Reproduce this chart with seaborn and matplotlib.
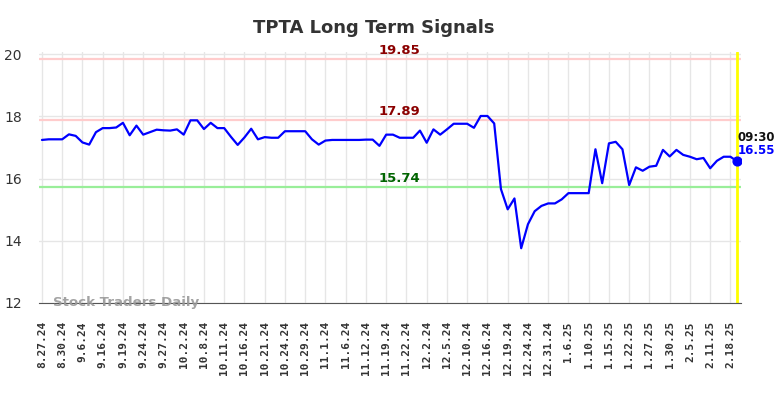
import matplotlib
matplotlib.use("Agg")
import matplotlib.pyplot as plt
import numpy as np
import pandas as pd
import seaborn as sns


# ─── Data ──────────────────────────────────────────────────────────────────

prices = [
    17.24, 17.26, 17.26, 17.26, 17.42, 17.37, 17.16, 17.09, 17.49, 17.62,
    17.62, 17.64, 17.79, 17.39, 17.70, 17.41, 17.49, 17.57, 17.55, 17.54,
    17.58, 17.41, 17.87, 17.87, 17.59, 17.79, 17.62, 17.62, 17.34, 17.08,
    17.32, 17.60, 17.26, 17.33, 17.31, 17.31, 17.52, 17.52, 17.52, 17.52,
    17.26, 17.09, 17.22, 17.24, 17.24, 17.24, 17.24, 17.24, 17.25, 17.25,
    17.05, 17.41, 17.41, 17.31, 17.31, 17.31, 17.54, 17.15, 17.58, 17.41,
    17.58, 17.76, 17.76, 17.76, 17.63, 18.01, 18.01, 17.77, 15.66, 15.01,
    15.36, 13.76, 14.53, 14.95, 15.12, 15.20, 15.20, 15.33, 15.53, 15.53,
    15.53, 15.53, 16.94, 15.85, 17.13, 17.18, 16.94, 15.79, 16.36, 16.25,
    16.38, 16.41, 16.92, 16.71, 16.92, 16.76, 16.70, 16.62, 16.66, 16.33,
    16.57, 16.70, 16.70, 16.55,
]

tick_labels = [
    "8.27.24", "8.30.24", "9.6.24", "9.16.24", "9.19.24", "9.24.24", "9.27.24",
    "10.2.24", "10.8.24", "10.11.24", "10.16.24", "10.21.24", "10.24.24",
    "10.29.24", "11.1.24", "11.6.24", "11.12.24", "11.19.24", "11.22.24",
    "12.2.24", "12.5.24", "12.10.24", "12.16.24", "12.19.24", "12.24.24",
    "12.31.24", "1.6.25", "1.10.25", "1.15.25", "1.22.25", "1.27.25",
    "1.30.25", "2.5.25", "2.11.25", "2.18.25",
]

resistance_levels = [19.85, 17.89]
support_levels = [15.74]
last_time = "09:30"


# ─── Plot ──────────────────────────────────────────────────────────────────

df = pd.DataFrame({"idx": np.arange(len(prices)), "price": prices})
tick_step = 3

sns.set_style("white")
fig = plt.figure(figsize=(7.84, 3.98), dpi=100)
ax = fig.add_axes([0.0492, 0.2387, 0.8954, 0.6294])

for lvl in resistance_levels:
    ax.axhline(lvl, color="#ffcccc", lw=1.6, zorder=1)
for lvl in support_levels:
    ax.axhline(lvl, color="#99ee99", lw=1.6, zorder=1)

sns.lineplot(data=df, x="idx", y="price", ax=ax, color="#0000ff", lw=1.6, zorder=3)

last_i = len(prices) - 1
ax.axvline(last_i, color="#ffff00", lw=2, zorder=2)
ax.scatter([last_i], [prices[-1]], s=40, color="#0000ff", zorder=4)

ax.set_xlim(-0.5, last_i + 0.5)
ax.set_ylim(12, 20.05)
ax.set_yticks([12, 14, 16, 18, 20])
ax.set_xticks(np.arange(0, len(tick_labels) * tick_step, tick_step))
ax.set_xticklabels(tick_labels, rotation=90, fontsize=8, fontweight="bold",
                   family="DejaVu Sans Mono", color="#333333")
ax.tick_params(axis="y", labelsize=10, colors="#333333", length=0, pad=12)
ax.tick_params(axis="x", length=0, pad=13)
ax.grid(True, color="#e6e6e6", lw=1)
ax.set_xlabel("")
ax.set_ylabel("")
for side in ["top", "right", "left"]:
    ax.spines[side].set_visible(False)
ax.spines["bottom"].set_color("#555555")

mid = last_i / 2 + 1.5
for lvl in resistance_levels:
    ax.text(mid, lvl + 0.06, f"{lvl:.2f}", color="#8b0000", fontsize=9.5,
            fontweight="bold", ha="center", va="bottom")
for lvl in support_levels:
    ax.text(mid, lvl + 0.06, f"{lvl:.2f}", color="#006400", fontsize=9.5,
            fontweight="bold", ha="center", va="bottom")

ax.text(last_i, prices[-1] + 0.57, last_time, color="#111111", fontsize=8.5,
        fontweight="bold", ha="left", va="bottom")
ax.text(last_i, prices[-1] + 0.14, f"{prices[-1]:.2f}", color="#0000ff",
        fontsize=8.5, fontweight="bold", ha="left", va="bottom")

ax.text(1.7, 12.0, "Stock Traders Daily", color="#999999", fontsize=9.6,
        fontweight="bold", ha="left", va="center", alpha=0.9)

fig.text(374 / 784, 1 - 33 / 398, "TPTA Long Term Signals", fontsize=13,
         fontweight="bold", color="#333333", ha="center", va="baseline")

fig.savefig("out.png", dpi=100)
